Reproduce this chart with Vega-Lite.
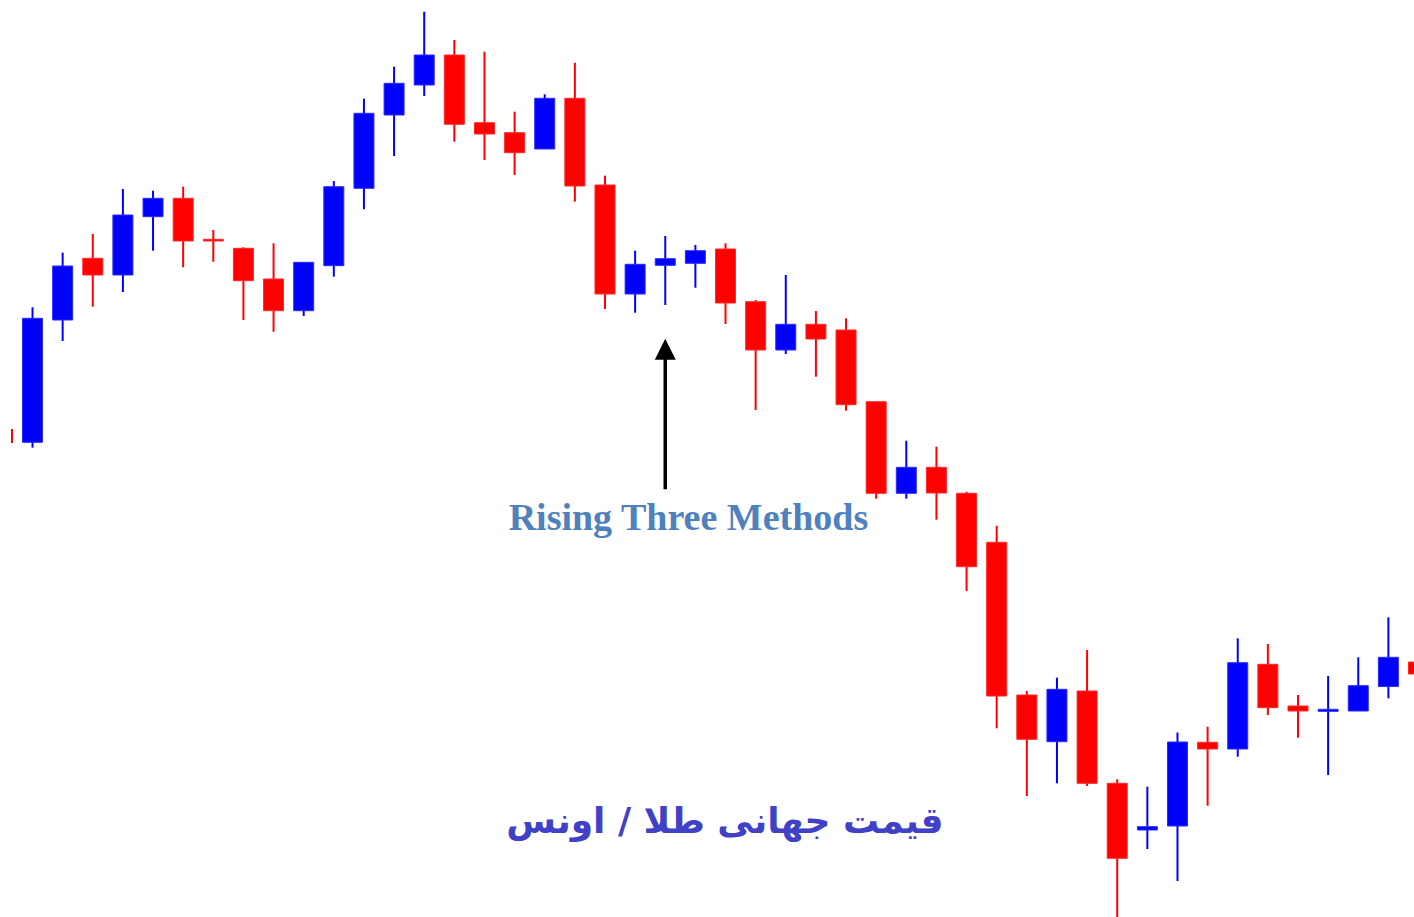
{
  "$schema": "https://vega.github.io/schema/vega-lite/v6.json",
  "width": 1414,
  "height": 917,
  "padding": 0,
  "autosize": {"type": "fit", "contains": "padding"},
  "background": "white",
  "config": {"view": {"stroke": null}},
  "datasets": {
    "candles": [
      {"t": 0.32, "open": null, "high": 488, "low": 474, "close": null},
      {"t": 1, "open": 474.7, "high": 609.7, "low": 469.3, "close": 598.7},
      {"t": 2, "open": 597, "high": 664.3, "low": 576, "close": 651},
      {"t": 3, "open": 658.7, "high": 683, "low": 610.3, "close": 642},
      {"t": 4, "open": 642, "high": 728, "low": 625, "close": 702},
      {"t": 5, "open": 700.3, "high": 726.3, "low": 666.3, "close": 718.7},
      {"t": 6, "open": 718.7, "high": 730.3, "low": 649.7, "close": 676},
      {"t": 7, "open": 677.7, "high": 687, "low": 655.3, "close": 676},
      {"t": 8, "open": 668.7, "high": 669.7, "low": 597, "close": 636.3},
      {"t": 9, "open": 638, "high": 673.7, "low": 585.3, "close": 606.3},
      {"t": 10, "open": 606.3, "high": 654.7, "low": 601, "close": 654.7},
      {"t": 11, "open": 651.3, "high": 736, "low": 640.3, "close": 730.3},
      {"t": 12, "open": 728.7, "high": 818.3, "low": 707.7, "close": 803.7},
      {"t": 13, "open": 802, "high": 850.3, "low": 761, "close": 833.7},
      {"t": 14, "open": 832, "high": 905.3, "low": 821, "close": 862},
      {"t": 15, "open": 862, "high": 877, "low": 775.3, "close": 792.7},
      {"t": 16, "open": 794.3, "high": 865.3, "low": 757, "close": 783},
      {"t": 17, "open": 784.3, "high": 805.3, "low": 742, "close": 764.3},
      {"t": 18, "open": 768, "high": 822.7, "low": 768, "close": 818.7},
      {"t": 19, "open": 818.7, "high": 854.3, "low": 715.3, "close": 731},
      {"t": 20, "open": 732, "high": 741.3, "low": 608, "close": 623},
      {"t": 21, "open": 623, "high": 666.3, "low": 604.3, "close": 652.7},
      {"t": 22, "open": 651.7, "high": 681, "low": 612, "close": 658.3},
      {"t": 23, "open": 653.7, "high": 672, "low": 629.3, "close": 666.3},
      {"t": 24, "open": 668, "high": 673.7, "low": 593, "close": 614},
      {"t": 25, "open": 615.3, "high": 617, "low": 507, "close": 567},
      {"t": 26, "open": 567, "high": 642, "low": 563, "close": 592.7},
      {"t": 27, "open": 592.7, "high": 606, "low": 540.3, "close": 578},
      {"t": 28, "open": 587, "high": 598.7, "low": 506.3, "close": 512.3},
      {"t": 29, "open": 515.3, "high": 515.3, "low": 418.3, "close": 423.7},
      {"t": 30, "open": 423.7, "high": 476.3, "low": 418.3, "close": 449.7},
      {"t": 31, "open": 449.7, "high": 470.3, "low": 397.3, "close": 424},
      {"t": 32, "open": 423.7, "high": 425.3, "low": 326, "close": 350.3},
      {"t": 33, "open": 374.7, "high": 391.3, "low": 188.7, "close": 221},
      {"t": 34, "open": 222, "high": 226, "low": 121, "close": 177.7},
      {"t": 35, "open": 175.3, "high": 239.3, "low": 133.7, "close": 227.7},
      {"t": 36, "open": 226, "high": 267, "low": 131, "close": 133.7},
      {"t": 37, "open": 133.7, "high": 137.7, "low": 0, "close": 58.7},
      {"t": 38, "open": 87, "high": 130.3, "low": 68, "close": 90.3},
      {"t": 39, "open": 91, "high": 184.5, "low": 36, "close": 175},
      {"t": 40, "open": 174.7, "high": 190.3, "low": 111.3, "close": 168},
      {"t": 41, "open": 168, "high": 278.7, "low": 160.3, "close": 254.3},
      {"t": 42, "open": 252.7, "high": 273, "low": 202, "close": 209.3},
      {"t": 43, "open": 211, "high": 222, "low": 179.3, "close": 206},
      {"t": 44, "open": 205.7, "high": 241, "low": 142, "close": 207.7},
      {"t": 45, "open": 206, "high": 259.7, "low": 206, "close": 231.3},
      {"t": 46, "open": 230.5, "high": 299.7, "low": 218.7, "close": 259.7},
      {"t": 47, "open": 255, "high": 258, "low": 240, "close": 243}
    ],
    "arrow": [
      {"t": 22, "from": 427.7, "to": 559, "head": 567.7}
    ],
    "labels": [
      {"t": 22.77, "p": 387, "label": "Rising Three Methods", "kind": "pattern"},
      {"t": 23.98, "p": 84, "label": "قیمت جهانی طلا / اونس", "kind": "title"}
    ]
  },
  "layer": [
    {
      "data": {"name": "candles"},
      "mark": {"type": "rule", "strokeWidth": 2, "clip": true},
      "encoding": {
        "x": {"field": "t", "type": "quantitative", "axis": null, "scale": {"domain": [-0.079, 46.85], "nice": false, "zero": false, "padding": 0}},
        "y": {"field": "low", "type": "quantitative", "axis": null, "scale": {"domain": [0, 917], "nice": false, "zero": false, "padding": 0}},
        "y2": {"field": "high"},
        "stroke": {"condition": {"test": "datum.close > datum.open", "value": "#0000ff"}, "value": "#ff0000"}
      }
    },
    {
      "data": {"name": "candles"},
      "mark": {"type": "bar", "size": 20, "strokeWidth": 1, "clip": true},
      "encoding": {
        "x": {"field": "t", "type": "quantitative"},
        "y": {"field": "open", "type": "quantitative"},
        "y2": {"field": "close"},
        "fill": {"condition": {"test": "datum.close > datum.open", "value": "#0000ff"}, "value": "#ff0000"},
        "stroke": {"condition": {"test": "datum.close > datum.open", "value": "#2a2aff"}, "value": "#ff2a2a"}
      }
    },
    {
      "data": {"name": "arrow"},
      "mark": {"type": "rule", "strokeWidth": 3.5, "color": "#000000"},
      "encoding": {
        "x": {"field": "t", "type": "quantitative"},
        "y": {"field": "from", "type": "quantitative"},
        "y2": {"field": "to"}
      }
    },
    {
      "data": {"name": "arrow"},
      "mark": {"type": "point", "shape": "M-1,1L0,-1L1,1Z", "size": 441, "filled": true, "color": "#000000", "opacity": 1},
      "encoding": {
        "x": {"field": "t", "type": "quantitative"},
        "y": {"field": "head", "type": "quantitative"}
      }
    },
    {
      "data": {"name": "labels"},
      "transform": [{"filter": "datum.kind == 'pattern'"}],
      "mark": {"type": "text", "font": "Liberation Serif", "fontWeight": "bold", "fontSize": 38, "color": "#4f81bd", "align": "center", "baseline": "alphabetic"},
      "encoding": {
        "x": {"field": "t", "type": "quantitative"},
        "y": {"field": "p", "type": "quantitative"},
        "text": {"field": "label"}
      }
    },
    {
      "data": {"name": "labels"},
      "transform": [{"filter": "datum.kind == 'title'"}],
      "mark": {"type": "text", "font": "DejaVu Sans", "fontWeight": "bold", "fontSize": 36, "color": "#4141c8", "align": "center", "baseline": "alphabetic"},
      "encoding": {
        "x": {"field": "t", "type": "quantitative"},
        "y": {"field": "p", "type": "quantitative"},
        "text": {"field": "label"}
      }
    }
  ]
}
